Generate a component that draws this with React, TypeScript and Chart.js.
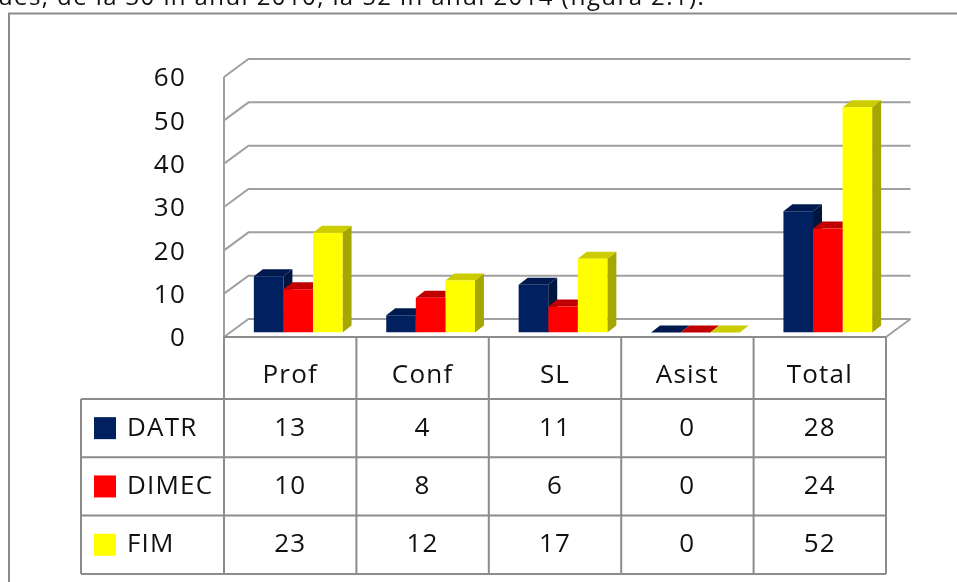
import React, { useEffect, useRef } from "react";
import { Chart, registerables } from "chart.js";

Chart.register(...registerables);

const categories = ["Prof", "Conf", "SL", "Asist", "Total"];
const seriesNames = ["DATR", "DIMEC", "FIM"];
const datrValues = [13, 4, 11, 0, 28];
const dimecValues = [10, 8, 6, 0, 24];
const fimValues = [23, 12, 17, 0, 52];
const yTicks = [0, 10, 20, 30, 40, 50, 60];
const captionText = "ues, de la 30 în anul 2010, la 52 în anul 2014 (figura 2.1).";

const frontColors = ["#002060", "#ff0000", "#ffff00"];
const topColors = ["#001a4f", "#c00000", "#cccc00"];
const sideColors = ["#00163f", "#a80000", "#a6a600"];

const FONT_FAMILY = '"Open Sans", "Noto Sans", sans-serif';
const FONT_SIZE = 26;
const LETTER_SPACING = "1.2px";
const GRID_COLOR = "#a0a0a0";
const TABLE_COLOR = "#8c8c8c";

// projection offsets relative to the bars' front-face plane
const BAR_DX = 9;
const BAR_DY = 7;
const FRONT_DX = -8;
const FRONT_DY = 4.5;
const BACK_DX = 16.5;
const BACK_DY = -13.5;

const threeDPlugin = {
  id: "threeD",
  beforeDatasetsDraw(chart: any) {
    const ctx = chart.ctx as CanvasRenderingContext2D;
    const xs = chart.scales.x;
    const ys = chart.scales.y;
    const L = xs.left;
    const R = xs.right;
    ctx.save();
    ctx.strokeStyle = GRID_COLOR;
    ctx.lineWidth = 2;
    ctx.lineCap = "butt";
    const maxV = yTicks[yTicks.length - 1];
    for (const v of yTicks) {
      const yb = ys.getPixelForValue(v);
      ctx.beginPath();
      ctx.moveTo(L + FRONT_DX, yb + FRONT_DY);
      ctx.lineTo(L + BACK_DX, yb + BACK_DY);
      ctx.lineTo(R + BACK_DX, yb + BACK_DY);
      ctx.stroke();
    }
    // left wall front edge
    ctx.beginPath();
    ctx.moveTo(L + FRONT_DX, ys.getPixelForValue(maxV) + FRONT_DY);
    ctx.lineTo(L + FRONT_DX, ys.getPixelForValue(0) + FRONT_DY);
    ctx.stroke();
    // floor right edge
    const y0 = ys.getPixelForValue(0);
    ctx.beginPath();
    ctx.moveTo(R + FRONT_DX, y0 + FRONT_DY);
    ctx.lineTo(R + BACK_DX, y0 + BACK_DY);
    ctx.stroke();

    // 3D top and side faces, painted left to right
    const metas = [0, 1, 2].map((i) => chart.getDatasetMeta(i));
    for (let c = 0; c < categories.length; c++) {
      for (let d = 0; d < metas.length; d++) {
        const el = metas[d].data[c];
        const p = el.getProps(["x", "y", "base", "width"], true);
        const l = p.x - p.width / 2;
        const r = p.x + p.width / 2;
        const top = p.y;
        const base = p.base;
        ctx.fillStyle = sideColors[d];
        ctx.beginPath();
        ctx.moveTo(r, top);
        ctx.lineTo(r + BAR_DX, top - BAR_DY);
        ctx.lineTo(r + BAR_DX, base - BAR_DY);
        ctx.lineTo(r, base);
        ctx.closePath();
        ctx.fill();
        ctx.fillStyle = topColors[d];
        ctx.beginPath();
        ctx.moveTo(l, top);
        ctx.lineTo(r, top);
        ctx.lineTo(r + BAR_DX, top - BAR_DY);
        ctx.lineTo(l + BAR_DX, top - BAR_DY);
        ctx.closePath();
        ctx.fill();
      }
    }
    ctx.restore();
  },
  afterDraw(chart: any) {
    const ctx = chart.ctx as CanvasRenderingContext2D;
    const xs = chart.scales.x;
    const ys = chart.scales.y;
    const L = xs.left + FRONT_DX;
    const R = xs.right + FRONT_DX;
    const colW = (R - L) / categories.length;
    const y0 = ys.getPixelForValue(0) + FRONT_DY;
    ctx.save();
    ctx.font = `${FONT_SIZE}px ${FONT_FAMILY}`;
    (ctx as any).letterSpacing = LETTER_SPACING;
    ctx.fillStyle = "#111111";

    // y tick labels
    ctx.textAlign = "right";
    ctx.textBaseline = "middle";
    for (const v of yTicks) {
      ctx.fillText(String(v), L - 38, ys.getPixelForValue(v) + FRONT_DY + 2);
    }

    // data table
    const headerBottom = 399;
    const rowH = 58.3;
    const legendLeft = 81;
    const tableBottom = headerBottom + rowH * seriesNames.length;
    ctx.strokeStyle = TABLE_COLOR;
    ctx.lineWidth = 2;
    ctx.beginPath();
    ctx.moveTo(L, y0);
    ctx.lineTo(R, y0);
    for (let i = 0; i <= categories.length; i++) {
      const xx = L + i * colW;
      ctx.moveTo(xx, y0);
      ctx.lineTo(xx, tableBottom);
    }
    for (let r = 0; r <= seriesNames.length; r++) {
      const yy = headerBottom + r * rowH;
      ctx.moveTo(legendLeft, yy);
      ctx.lineTo(R, yy);
    }
    ctx.moveTo(legendLeft, headerBottom);
    ctx.lineTo(legendLeft, tableBottom);
    ctx.stroke();

    ctx.textAlign = "center";
    ctx.textBaseline = "middle";
    categories.forEach((cat, i) => {
      ctx.fillText(cat, L + (i + 0.5) * colW, (y0 + headerBottom) / 2 + 8);
    });
    const allValues = [datrValues, dimecValues, fimValues];
    seriesNames.forEach((name, r) => {
      const cy = headerBottom + (r + 0.5) * rowH;
      ctx.fillStyle = frontColors[r];
      ctx.fillRect(94, cy - 11, 22, 22);
      ctx.fillStyle = "#111111";
      ctx.textAlign = "left";
      ctx.fillText(name, 127, cy);
      ctx.textAlign = "center";
      allValues[r].forEach((v, i) => {
        ctx.fillText(String(v), L + (i + 0.5) * colW, cy);
      });
    });

    // outer frame of the figure
    ctx.strokeStyle = TABLE_COLOR;
    ctx.lineWidth = 2;
    ctx.strokeRect(9, 13.5, 1200, 1200);

    // clipped caption line above the figure
    ctx.textAlign = "left";
    ctx.textBaseline = "alphabetic";
    ctx.fillStyle = "#111111";
    ctx.font = `24px ${FONT_FAMILY}`;
    (ctx as any).letterSpacing = "1.4px";
    ctx.fillText(captionText, -2, 5);
    ctx.restore();
  },
};

export default function App() {
  const canvasRef = useRef<HTMLCanvasElement | null>(null);

  useEffect(() => {
    const canvas = canvasRef.current;
    if (!canvas) return;
    const chart = new Chart(canvas, {
      type: "bar",
      data: {
        labels: categories,
        datasets: [
          { label: seriesNames[0], data: datrValues, backgroundColor: frontColors[0] },
          { label: seriesNames[1], data: dimecValues, backgroundColor: frontColors[1] },
          { label: seriesNames[2], data: fimValues, backgroundColor: frontColors[2] },
        ],
      },
      options: {
        responsive: false,
        animation: false,
        devicePixelRatio: 1,
        layout: { padding: { left: 232, right: 63, top: 72.5, bottom: 249.5 } },
        datasets: {
          bar: { categoryPercentage: 0.67, barPercentage: 1, borderWidth: 0 },
        },
        scales: {
          x: { display: false, offset: true },
          y: { display: false, min: 0, max: 60 },
        },
        plugins: {
          legend: { display: false },
          tooltip: { enabled: false },
        },
      },
      plugins: [threeDPlugin],
    });
    return () => chart.destroy();
  }, []);

  return (
    <div style={{ position: "absolute", left: 0, top: 0, width: 957, height: 582, background: "#ffffff" }}>
      <canvas ref={canvasRef} width={957} height={582} style={{ display: "block", width: 957, height: 582 }} />
    </div>
  );
}
